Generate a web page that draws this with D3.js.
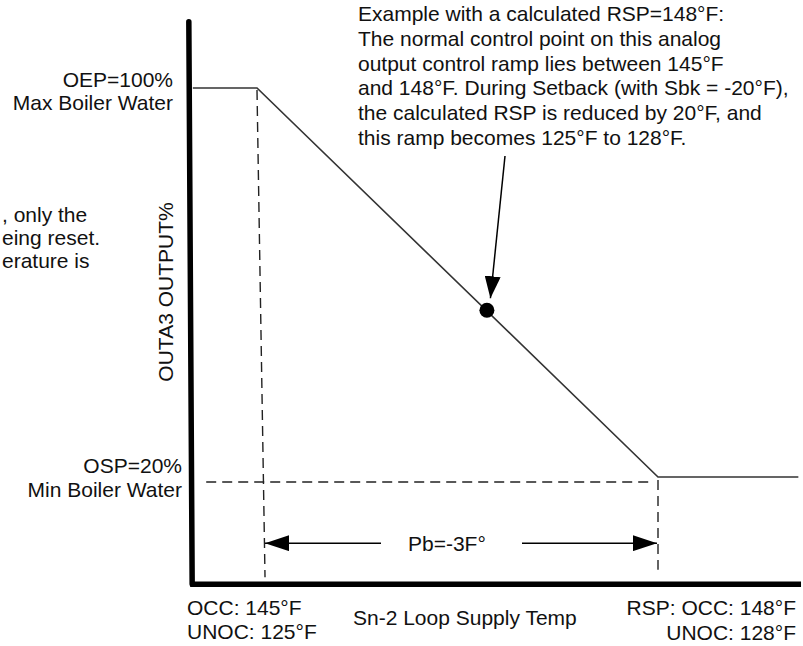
<!DOCTYPE html>
<html>
<head>
<meta charset="utf-8">
<style>
body { margin: 0; background: #fff; }
svg text { font-family: Arial, "Liberation Sans", sans-serif; font-size: 21px; fill: #111; }
</style>
</head>
<body>
<script src="https://cdn.jsdelivr.net/npm/d3@7/dist/d3.min.js"></script>
<script>
    const width = 803, height = 646;

    // output ramp: temp (°F) -> output (%)
    const rampTemps = [144.52, 145, 148, 149.05];
    const rampOutputs = [100, 100, 20, 20];

    // control point marked on the ramp
    const controlPoint = {temp: 146.72, out: 54.3};

    // guide values
    const occTemp = 145, rspTemp = 148;
    const oep = 100, osp = 20;
    const pbArrowOut = 6.4;

    const noteLines = [
        "Example with a calculated RSP=148°F:",
        "The normal control point on this analog",
        "output control ramp lies between 145°F",
        "and 148°F. During Setback (with Sbk = -20°F),",
        "the calculated RSP is reduced by 20°F, and",
        "this ramp becomes 125°F to 128°F."
    ];
    const clippedLines = [", only the", "eing reset.", "erature is"];

    const x = d3.scaleLinear().domain([145, 148]).range([257, 658]);
    const y = d3.scaleLinear().domain([100, 20]).range([88, 477]);

    const svg = d3.select("body").append("svg")
        .attr("width", width)
        .attr("height", height);

    const defs = svg.append("defs");
    defs.append("marker")
        .attr("id", "tri")
        .attr("viewBox", "0 0 24 16")
        .attr("refX", 24).attr("refY", 8)
        .attr("markerWidth", 24).attr("markerHeight", 16)
        .attr("markerUnits", "userSpaceOnUse")
        .attr("orient", "auto")
        .append("path").attr("d", "M0,0L24,8L0,16Z").attr("fill", "#000");
    defs.append("marker")
        .attr("id", "tri2")
        .attr("viewBox", "0 0 22 16")
        .attr("refX", 22).attr("refY", 8)
        .attr("markerWidth", 22).attr("markerHeight", 16)
        .attr("markerUnits", "userSpaceOnUse")
        .attr("orient", "auto")
        .append("path").attr("d", "M0,0L22,8L0,16Z").attr("fill", "#000");

    // axes (thick lines)
    svg.append("line")
        .attr("x1", x(144.49)).attr("y1", y(113.6))
        .attr("x2", x(144.515)).attr("y2", y(-2.0))
        .attr("stroke", "#000").attr("stroke-width", 5.5).attr("stroke-linecap", "round");
    svg.append("line")
        .attr("x1", x(144.5)).attr("y1", y(-2.05))
        .attr("x2", x(149.07)).attr("y2", y(-2.05))
        .attr("stroke", "#000").attr("stroke-width", 5.5);

    // dashed guides
    const dash = "10,6";
    svg.append("line")
        .attr("x1", x(occTemp)).attr("y1", y(oep) + 2)
        .attr("x2", x(145.06)).attr("y2", y(-0.6))
        .attr("stroke", "#222").attr("stroke-width", 1.4).attr("stroke-dasharray", dash);
    svg.append("line")
        .attr("x1", x(144.62)).attr("y1", y(osp) + 5)
        .attr("x2", x(rspTemp) - 8).attr("y2", y(osp) + 5)
        .attr("stroke", "#222").attr("stroke-width", 1.4).attr("stroke-dasharray", dash);
    svg.append("line")
        .attr("x1", x(rspTemp)).attr("y1", y(osp) + 3)
        .attr("x2", x(rspTemp)).attr("y2", y(0.9))
        .attr("stroke", "#222").attr("stroke-width", 1.4).attr("stroke-dasharray", dash);

    // ramp
    const ramp = rampTemps.map((t, i) => ({t: t, o: rampOutputs[i]}));
    const line = d3.line().x(d => x(d.t)).y(d => y(d.o));
    svg.append("path")
        .datum(ramp)
        .attr("fill", "none")
        .attr("stroke", "#333")
        .attr("stroke-width", 1.6)
        .attr("d", line);

    // Pb arrows
    svg.append("line")
        .attr("x1", 381).attr("y1", y(pbArrowOut))
        .attr("x2", x(145.06)).attr("y2", y(pbArrowOut))
        .attr("stroke", "#000").attr("stroke-width", 1.5).attr("marker-end", "url(#tri)");
    svg.append("line")
        .attr("x1", 522).attr("y1", y(pbArrowOut))
        .attr("x2", x(rspTemp) - 1).attr("y2", y(pbArrowOut))
        .attr("stroke", "#000").attr("stroke-width", 1.5).attr("marker-end", "url(#tri)");
    svg.append("text").attr("x", 408).attr("y", y(pbArrowOut) + 8).text("Pb=-3F°");

    // control point and pointer
    svg.append("circle")
        .attr("cx", x(controlPoint.temp)).attr("cy", y(controlPoint.out))
        .attr("r", 7.5).attr("fill", "#000");
    svg.append("line")
        .attr("x1", 505).attr("y1", 156)
        .attr("x2", x(controlPoint.temp) + 3.5).attr("y2", y(controlPoint.out) - 12)
        .attr("stroke", "#000").attr("stroke-width", 1.5).attr("marker-end", "url(#tri2)");

    // note text
    svg.append("g").selectAll("text").data(noteLines).enter()
        .append("text")
        .attr("x", 358)
        .attr("y", (d, i) => 21 + i * 24.8)
        .text(d => d);

    // partial note on the left edge
    svg.append("g").selectAll("text").data(clippedLines).enter()
        .append("text")
        .attr("x", 2)
        .attr("y", (d, i) => 222 + i * 23.2)
        .text(d => d);

    // y-side labels
    svg.append("text").attr("text-anchor", "end").attr("x", 173).attr("y", 87).text("OEP=100%");
    svg.append("text").attr("text-anchor", "end").attr("x", 173).attr("y", 110).text("Max Boiler Water");
    svg.append("text").attr("text-anchor", "end").attr("x", 182).attr("y", 473).text("OSP=20%");
    svg.append("text").attr("text-anchor", "end").attr("x", 182).attr("y", 497).text("Min Boiler Water");

    svg.append("text")
        .attr("text-anchor", "middle")
        .attr("transform", "translate(173,292) rotate(-90)")
        .text("OUTA3 OUTPUT%");

    // x-side labels
    svg.append("text").attr("x", 187).attr("y", 615).text("OCC: 145°F");
    svg.append("text").attr("x", 187).attr("y", 639).text("UNOC: 125°F");
    svg.append("text").attr("x", 353).attr("y", 625).text("Sn-2 Loop Supply Temp");
    svg.append("text").attr("text-anchor", "end").attr("x", 796).attr("y", 615).text("RSP: OCC: 148°F");
    svg.append("text").attr("text-anchor", "end").attr("x", 796).attr("y", 640).text("UNOC: 128°F");
</script>
</body>
</html>
